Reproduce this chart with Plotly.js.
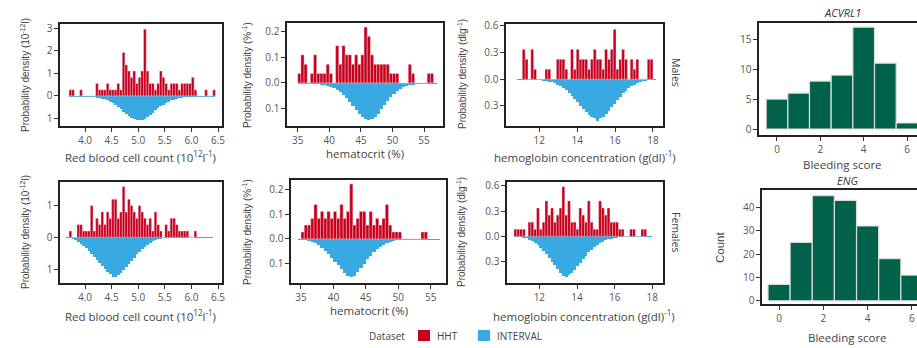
<!DOCTYPE html>
<html><head><meta charset="utf-8">
<script src="https://cdn.plot.ly/plotly-3.0.1.min.js"></script>
<style>html,body{margin:0;padding:0;background:#fff}#chart{width:917px;height:348px}</style>
</head><body><div id="chart"></div>
<script>
// ---------------- DATA ----------------
// Mirrored histograms: HHT (up) vs INTERVAL (down); values are probability densities
const rbcBinWidth = 0.05;
const rbcMaleHHTStart = 3.70;
const rbcMaleHHT = [0.27,0.27,0,0,0.27,0,0,0,0,0,
 0.55,0.27,0.27,0.27,0.55,0.27,0.27,0.27,0.55,0.27,
 1.92,1.37,1.1,0.82,1.1,0.55,0.82,1.1,2.95,1.1,
 0.55,0.55,0.27,0.55,1.1,0.82,0.55,0.27,0.55,0.55,
 0.55,0.27,0.55,0.55,0.55,0.55,0.82,0.27,0,0,
 0,0.27,0,0,0.27];
const rbcMaleIntStart = 3.70;
const rbcMaleInterval = [0.04,0.04,0.04,0.04,0.04,0.04,0.045,0.05,0.055,0.065,
 0.08,0.1,0.12,0.15,0.2,0.26,0.33,0.42,0.5,0.6,
 0.7,0.8,0.9,0.98,1.04,1.08,1.08,1.06,1.0,0.93,
 0.84,0.74,0.64,0.55,0.46,0.38,0.31,0.25,0.2,0.16,
 0.12,0.09,0.07,0.06,0.05,0.045,0.04,0.04,0.04,0.04,
 0.04,0.04,0.04,0.04,0.04];

const hctBinWidth = 0.5;
const hctMaleHHTStart = 35.0;
const hctMaleHHT = [0.037,0.11,0.073,0,0.037,0.11,0.037,0.037,0.037,0.073,
 0.037,0,0.146,0.073,0.146,0.11,0.11,0.073,0.11,0.073,
 0.11,0.219,0.183,0.11,0.073,0.073,0.073,0.073,0.073,0.037,
 0.037,0.037,0,0,0,0.073,0.037,0,0,0,
 0,0.037,0.037];
const hctMaleIntStart = 35.0;
const hctMaleInterval = [0.004,0.004,0.004,0.004,0.004,0.004,0.005,0.007,0.009,0.012,
 0.015,0.02,0.027,0.036,0.047,0.06,0.074,0.09,0.105,0.12,
 0.132,0.141,0.145,0.142,0.133,0.12,0.104,0.087,0.07,0.055,
 0.042,0.031,0.023,0.017,0.012,0.009,0.007,0.005,0.004,0.004,
 0.004,0.004,0.004,0.004];

const hbBinWidth = 0.15;
const hbMaleHHTStart = 11.1;
const hbMaleHHT = [0.336,0.224,0,0.336,0.112,0,0,0,0.112,0.112,
 0,0,0.224,0.224,0.224,0.112,0,0.336,0.112,0.336,
 0.224,0.224,0.224,0.112,0.224,0.336,0.224,0.224,0.112,0.336,
 0.224,0.336,0.56,0.112,0.224,0.336,0.224,0,0.224,0.112,
 0.224,0,0,0,0.224,0.224];
const hbMaleIntStart = 10.8;
const hbMaleInterval = [0.011,0.011,0.011,0.011,0.011,0.011,0.011,0.011,0.013,0.017,
 0.022,0.028,0.036,0.046,0.06,0.078,0.1,0.125,0.155,0.19,
 0.225,0.26,0.3,0.335,0.37,0.4,0.425,0.44,0.47,0.44,
 0.42,0.39,0.355,0.315,0.275,0.235,0.195,0.16,0.13,0.1,
 0.078,0.06,0.045,0.034,0.025,0.018,0.012,0.011,0.011];

const rbcFemaleHHTStart = 3.70;
const rbcFemaleHHT = [0.2,0,0,0.4,0.4,0.2,0.2,0.2,1.0,0.2,
 0.6,0.4,0.8,0.4,0.8,0.6,1.2,1.2,0.6,0.8,
 1.6,0.8,1.2,1.0,0.8,0.6,1.0,0.8,0.6,0.4,
 0.6,0.2,0.8,0.4,0.2,0,0.4,0.2,0.6,0.6,
 0.4,0.2,0.2,0.2,0.2,0,0,0.2];
const rbcFemaleIntStart = 3.65;
const rbcFemaleInterval = [0.03,0.035,0.05,0.09,0.14,0.2,0.27,0.35,0.43,0.52,
 0.61,0.71,0.81,0.91,1.0,1.09,1.17,1.24,1.26,1.2,
 1.12,1.03,0.94,0.84,0.74,0.64,0.54,0.45,0.37,0.3,
 0.23,0.17,0.13,0.09,0.065,0.045,0.035,0.03,0.03,0.03,
 0.03,0.03,0.03,0.03,0.03,0.03,0.03,0.03,0.03,0.03,
 0.03,0.03,0.03,0.03,0.03];

const hctFemaleHHTStart = 35.0;
const hctFemaleHHT = [0.028,0.056,0.056,0.083,0.139,0.083,0.111,0.083,0.111,0.083,
 0.111,0.083,0.139,0.083,0.111,0.222,0.056,0.083,0.111,0.111,
 0.056,0.111,0.056,0.083,0.056,0.083,0.139,0.056,0.028,0.028,
 0.028,0,0,0,0,0,0,0.028,0.028];
const hctFemaleIntStart = 34.5;
const hctFemaleInterval = [0.004,0.004,0.005,0.008,0.012,0.018,0.026,0.036,0.048,0.062,
 0.077,0.092,0.107,0.122,0.136,0.148,0.155,0.148,0.134,0.118,
 0.1,0.083,0.067,0.053,0.041,0.031,0.023,0.017,0.012,0.009,
 0.006,0.005,0.004,0.004,0.004,0.004,0.004,0.004,0.004,0.004,
 0.004,0.004,0.004,0.004];

const hbFemaleHHTStart = 10.65;
const hbFemaleHHT = [0.084,0.084,0.084,0.084,0,0.168,0.168,0.084,0.336,0.084,
 0.168,0.42,0.252,0.336,0.168,0.252,0.336,0.588,0.252,0.42,
 0.168,0.168,0.084,0.336,0.252,0.168,0.42,0.168,0.084,0.084,
 0.42,0.336,0.252,0.336,0.168,0.168,0.168,0.084,0.084,0,
 0,0.084,0.084,0,0,0.084,0.084];
const hbFemaleIntStart = 10.65;
const hbFemaleInterval = [0.012,0.012,0.012,0.016,0.025,0.038,0.055,0.078,0.105,0.135,
 0.17,0.21,0.255,0.3,0.345,0.39,0.43,0.465,0.486,0.46,
 0.43,0.395,0.355,0.31,0.268,0.228,0.19,0.157,0.128,0.102,
 0.08,0.062,0.047,0.035,0.026,0.019,0.014,0.012,0.012,0.012,
 0.012,0.012,0.012,0.012,0.012,0.012,0.012,0.012,0.012];

// Bleeding score bar charts
const bleedingScores = [0,1,2,3,4,5,6];
const acvrl1Counts = [5,6,8,9,17,11,1];
const engCounts = [7,25,45,43,32,18,11];

// Tick labels
const rbcTicks = [4.0,4.5,5.0,5.5,6.0,6.5];
const rbcTickText = ['4.0','4.5','5.0','5.5','6.0','6.5'];
const hctTicks = [35,40,45,50,55];
const hbTicks = [12,14,16,18];
const scoreTicks = [0,2,4,6];
const yTicksRbcM = [3,2,1,0,-1], yTextRbcM = ['3','2','1','0','1'];
const yTicksRbcF = [1,0,-1], yTextRbcF = ['1','0','1'];
const yTicksHct = [0.2,0.1,0,-0.1], yTextHct = ['0.2','0.1','0.0','0.1'];
const yTicksHb = [0.6,0.3,0,-0.3], yTextHb = ['0.6','0.3','0.0','0.3'];
const yTicksAcvrl1 = [0,5,10,15];
const yTicksEng = [0,10,20,30,40];

// ---------------- LAYOUT HELPERS ----------------
const W = 917, H = 348;
const fx = p => p / W, fy = p => 1 - p / H;
const RED = '#C4001F', BLUE = '#38A9E1', GREEN = '#00624A';
const FONT = 'Open Sans, Noto Sans, sans-serif';
const NARROW = 'Liberation Sans, Arial, sans-serif';

const centers = (start, w, n) => Array.from({length:n}, (_, i) => start + w*(i+0.5));

const hist = [
  {hht:rbcMaleHHT, hs:rbcMaleHHTStart, iv:rbcMaleInterval, is:rbcMaleIntStart, w:rbcBinWidth},
  {hht:hctMaleHHT, hs:hctMaleHHTStart, iv:hctMaleInterval, is:hctMaleIntStart, w:hctBinWidth},
  {hht:hbMaleHHT, hs:hbMaleHHTStart, iv:hbMaleInterval, is:hbMaleIntStart, w:hbBinWidth},
  {hht:rbcFemaleHHT, hs:rbcFemaleHHTStart, iv:rbcFemaleInterval, is:rbcFemaleIntStart, w:rbcBinWidth},
  {hht:hctFemaleHHT, hs:hctFemaleHHTStart, iv:hctFemaleInterval, is:hctFemaleIntStart, w:hctBinWidth},
  {hht:hbFemaleHHT, hs:hbFemaleHHTStart, iv:hbFemaleInterval, is:hbFemaleIntStart, w:hbBinWidth}
];

const boxes = [
  {l:60,r:222,t:24,b:126}, {l:287,r:443,t:23,b:126}, {l:506,r:663,t:24,b:126},
  {l:60,r:222,t:182,b:283}, {l:291,r:446,t:180,b:283}, {l:507,r:663,t:182,b:283},
  {l:759,r:917,t:23,b:135}, {l:762,r:917,t:190,b:304}
];
const xr = [[3.53,6.575],[33.3,58.0],[10.24,18.53],[3.53,6.575],[33.46,57.36],[10.28,18.57],[-0.83,6.46],[-0.77,6.23]];
const yr = [[-1.33,3.18],[-0.169,0.235],[-0.525,0.62],[-1.44,1.745],[-0.178,0.238],[-0.553,0.644],[-1,17.7],[-1.4,47.4]];
const xt = [[rbcTicks,rbcTickText],[hctTicks,hctTicks.map(String)],[hbTicks,hbTicks.map(String)],
            [rbcTicks,rbcTickText],[hctTicks,hctTicks.map(String)],[hbTicks,hbTicks.map(String)],
            [scoreTicks,scoreTicks.map(String)],[scoreTicks,scoreTicks.map(String)]];
const yt = [[yTicksRbcM,yTextRbcM],[yTicksHct,yTextHct],[yTicksHb,yTextHb],
            [yTicksRbcF,yTextRbcF],[yTicksHct,yTextHct],[yTicksHb,yTextHb],
            [yTicksAcvrl1,yTicksAcvrl1.map(String)],[yTicksEng,yTicksEng.map(String)]];

const traces = [];
hist.forEach((h, k) => {
  const ax = k === 0 ? '' : String(k+1);
  traces.push({type:'bar', x:centers(h.is, h.w, h.iv.length), y:h.iv.map(v => -v), width:h.w,
    xaxis:'x'+ax, yaxis:'y'+ax, marker:{color:BLUE, line:{width:0}}, hoverinfo:'skip'});
  traces.push({type:'bar', x:centers(h.hs, h.w, h.hht.length), y:h.hht, width:h.w,
    xaxis:'x'+ax, yaxis:'y'+ax, marker:{color:RED, line:{color:'rgba(255,215,220,0.8)', width:0.5}}, hoverinfo:'skip'});
});
[[acvrl1Counts,'7'],[engCounts,'8']].forEach(([c, ax]) => {
  traces.push({type:'bar', x:bleedingScores, y:c, width:1, xaxis:'x'+ax, yaxis:'y'+ax,
    marker:{color:GREEN, line:{color:'#dcdcdc', width:1.2}}, hoverinfo:'skip'});
});

const layout = {
  width:W, height:H, margin:{l:0,r:0,t:0,b:0}, showlegend:false,
  barmode:'overlay', bargap:0, paper_bgcolor:'#fff', plot_bgcolor:'#fff',
  font:{family:FONT, color:'#333'}, annotations:[], shapes:[]
};
boxes.forEach((b, k) => {
  const n = k === 0 ? '' : String(k+1);
  const isBar = k >= 6;
  layout['xaxis'+n] = {domain:[fx(b.l), fx(b.r)], range:xr[k], anchor:'y'+n,
    tickvals:xt[k][0], ticktext:xt[k][1], ticks:'outside', ticklen:4, tickwidth:1, tickcolor:'#333',
    showline:true, mirror:true, linecolor:'#222', linewidth:1.6, showgrid:false, zeroline:false,
    tickfont:{size:10, color:'#555', family:FONT}, fixedrange:true};
  layout['yaxis'+n] = {domain:[fy(b.b), fy(b.t)], range:yr[k], anchor:'x'+n,
    tickvals:yt[k][0], ticktext:yt[k][1], ticks:'outside', ticklen:4, tickwidth:1, tickcolor:'#333',
    showline:true, mirror:!isBar, linecolor:'#222', linewidth:1.6, showgrid:false, zeroline:false,
    tickfont:{size:10, color:'#555', family:FONT}, fixedrange:true};
});

function ann(text, px, py, opts) {
  layout.annotations.push(Object.assign({text, xref:'paper', yref:'paper', x:fx(px), y:fy(py),
    xanchor:'center', yanchor:'middle', showarrow:false, font:{size:11.5, color:'#444', family:FONT}}, opts||{}));
}
// x titles
ann('Red blood cell count (10<sup>12</sup>l<sup>-1</sup>)', 140, 157);
ann('hematocrit (%)', 365, 153);
ann('hemoglobin concentration (g(dl)<sup>-1</sup>)', 585, 157);
ann('Red blood cell count (10<sup>12</sup>l<sup>-1</sup>)', 140, 315);
ann('hematocrit (%)', 369, 310);
ann('hemoglobin concentration (g(dl)<sup>-1</sup>)', 584, 315);
ann('Bleeding score', 842, 164);
ann('Bleeding score', 847, 337);
// y titles
const yopt = {textangle:-90, font:{size:10, color:'#444', family:NARROW}};
ann('Probability density (10<sup>-12</sup>l)', 25, 75, yopt);
ann('Probability density (%<sup>-1</sup>)', 247, 75, yopt);
ann('Probability density (dlg<sup>-1</sup>)', 462, 74, yopt);
ann('Probability density (10<sup>-12</sup>l)', 25, 232, yopt);
ann('Probability density (%<sup>-1</sup>)', 247, 232, yopt);
ann('Probability density (dlg<sup>-1</sup>)', 461, 232, yopt);
ann('Count', 720, 248, {textangle:-90, font:{size:11.5, color:'#444', family:NARROW}});
// panel titles & strips
ann('<i>ACVRL1</i>', 842, 13, {font:{size:11, color:'#333', family:FONT}});
ann('<i>ENG</i>', 847, 180, {font:{size:11, color:'#333', family:FONT}});
ann('Males', 676, 72, {textangle:90, font:{size:10.5, color:'#444', family:FONT}});
ann('Females', 676, 232, {textangle:90, font:{size:10.5, color:'#444', family:FONT}});
// legend
ann('Dataset', 387, 336, {font:{size:10, color:'#444', family:FONT}});
ann('HHT', 435, 336, {xanchor:'left', font:{size:10, color:'#444', family:FONT}});
ann('INTERVAL', 495, 336, {xanchor:'left', font:{size:10, color:'#444', family:FONT}});
layout.shapes.push({type:'rect', xref:'paper', yref:'paper', x0:fx(418), x1:fx(430), y0:fy(341), y1:fy(330), fillcolor:RED, line:{width:0}});
layout.shapes.push({type:'rect', xref:'paper', yref:'paper', x0:fx(478), x1:fx(490), y0:fy(341), y1:fy(330), fillcolor:BLUE, line:{width:0}});

Plotly.newPlot('chart', traces, layout, {staticPlot:true, displayModeBar:false});
</script></body></html>
